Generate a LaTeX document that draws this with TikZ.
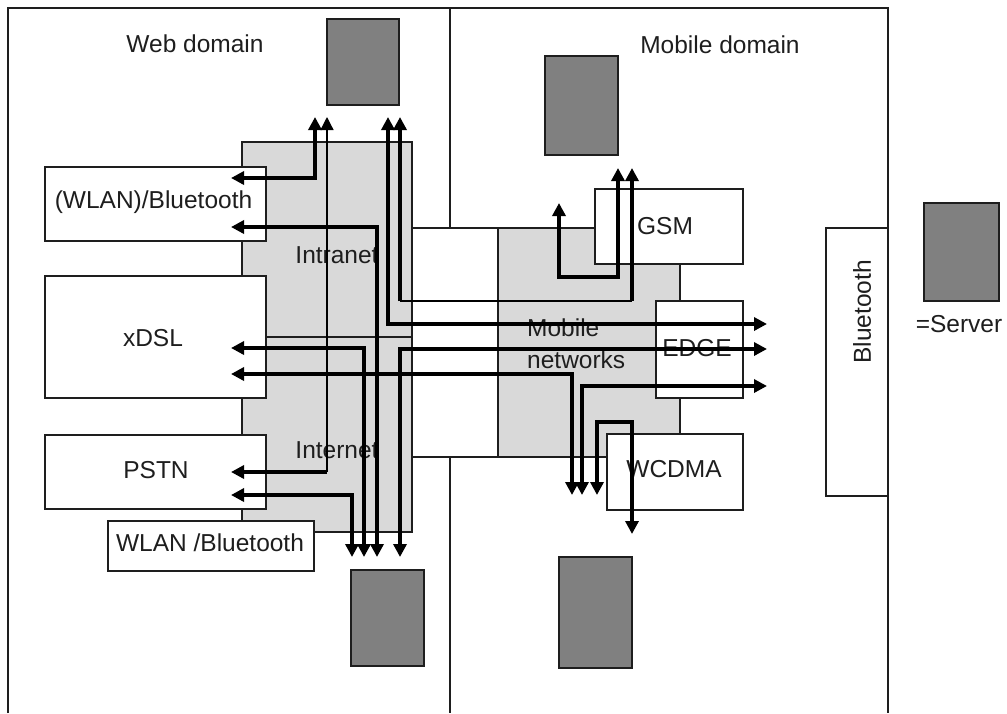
\documentclass[tikz,border=0pt]{standalone}
\usepackage{fontspec}
\setmainfont{Liberation Sans}
\usetikzlibrary{arrows.meta}
\definecolor{lgrey}{RGB}{217,217,217}
\definecolor{srvgrey}{RGB}{128,128,128}
\definecolor{ink}{RGB}{30,30,30}
\begin{document}
\begin{tikzpicture}[x=1pt,y=-1pt,
  >={Triangle[length=13pt,width=13pt]},
  frameline/.style={draw=ink, line width=1.3pt},
  box/.style={draw=ink, line width=1.3pt, fill=white, inner sep=0pt, outer sep=0pt},
  greybox/.style={box, fill=lgrey},
  server/.style={box, fill=srvgrey},
  lbl/.style={font=\fontsize{24.5}{32}\selectfont, text=ink, inner sep=0pt},
  conn/.style={draw=black, line width=3.3pt, line join=miter},
  thinconn/.style={draw=black, line width=1.3pt}]
\useasboundingbox (0,0) rectangle (1007,713);
% domain frames
\draw[frameline] (8,713) -- (8,8) -- (888,8) -- (888,713);
\draw[frameline] (450,8) -- (450,713);
% grey areas
\node[greybox, minimum width=170, minimum height=195] (intra) at (327,239.5) {};
\node[greybox, minimum width=170, minimum height=195] (inter) at (327,434.5) {};
\node[greybox, minimum width=182, minimum height=229] (mobnet) at (589,342.5) {};
\node[box, minimum width=86, minimum height=229] (link) at (455,342.5) {};
% access boxes
\node[box, minimum width=221, minimum height=74] (wlanbt) at (155.5,204) {};
\node[box, minimum width=221, minimum height=122] (xdsl) at (155.5,337) {};
\node[box, minimum width=221, minimum height=74] (pstn) at (155.5,472) {};
\node[box, minimum width=206, minimum height=50] (wlanbtb) at (211,546) {};
\node[box, minimum width=148, minimum height=75] (gsm) at (669,226.5) {};
\node[box, minimum width=87, minimum height=97] (edge) at (699.5,349.5) {};
\node[box, minimum width=136, minimum height=76] (wcdma) at (675,472) {};
\node[box, minimum width=62, minimum height=268] (bt) at (857,362) {};
% servers
\node[server, minimum width=72, minimum height=86] (srvwt) at (363,62) {};
\node[server, minimum width=73, minimum height=99] (srvmt) at (581.5,105.5) {};
\node[server, minimum width=73, minimum height=96] (srvwb) at (387.5,618) {};
\node[server, minimum width=73, minimum height=111] (srvmb) at (595.5,612.5) {};
\node[server, minimum width=75, minimum height=98] (srvleg) at (961.5,252) {};
% labels
\node[lbl] (lweb) at (195,44) {Web domain};
\node[lbl] (lmob) at (720,45) {Mobile domain};
\node[lbl] (lwlanbt) at (153.5,202) {(WLAN)/Bluetooth};
\node[lbl] (lxdsl) at (153,338) {xDSL};
\node[lbl] (lpstn) at (156,470) {PSTN};
\node[lbl] (lwlanbtb) at (210,543) {WLAN /Bluetooth};
\node[lbl] (lintra) at (337,255) {Intranet};
\node[lbl] (linter) at (337,450) {Internet};
\node[lbl, align=left, anchor=west] (lmobnet) at (527,344) {Mobile\\networks};
\node[lbl] (lgsm) at (665,226) {GSM};
\node[lbl] (ledge) at (697,348) {EDGE};
\node[lbl] (lwcdma) at (674,469) {WCDMA};
\node[lbl, rotate=90] (lbt) at (862,312) {Bluetooth};
\node[lbl] (lsrv) at (959,324) {=Server};
% connector end points
\coordinate (a1) at (315,117); \coordinate (a2) at (231,178);
\coordinate (b1) at (327,117); \coordinate (b2) at (327,472); \coordinate (b3) at (231,472);
\coordinate (c1) at (388,117); \coordinate (c2) at (767,324);
\coordinate (d1) at (400,117); \coordinate (d2) at (400,301); \coordinate (d3) at (632,301); \coordinate (d4) at (632,168);
\coordinate (e1) at (231,227); \coordinate (e2) at (377,557);
\coordinate (f1) at (231,348); \coordinate (f2) at (364,557);
\coordinate (g1) at (231,374); \coordinate (g2) at (572,495);
\coordinate (h1) at (231,495); \coordinate (h2) at (352,557);
\coordinate (i1) at (400,557); \coordinate (i2) at (767,349);
\coordinate (j1) at (582,495); \coordinate (j2) at (767,386);
\coordinate (k1) at (597,495); \coordinate (k2) at (632,422); \coordinate (k3) at (632,534);
\coordinate (l1) at (559,203); \coordinate (l2) at (618,277); \coordinate (l3) at (618,168);
% connectors
\draw[conn,<->] (a1) |- (a2);
\draw[thinconn,->] (b2) -- (b1);
\draw[conn,->] (b2) -- (b3);
\draw[conn,<->] (c1) |- (c2);
\draw[conn,->] (d2) -- (d1);
\draw[thinconn] (d2) -- (d3);
\draw[conn,->] (d3) -- (d4);
\draw[conn,<->] (e1) -| (e2);
\draw[conn,<->] (f1) -| (f2);
\draw[conn,<->] (g1) -| (g2);
\draw[conn,<->] (h1) -| (h2);
\draw[conn,<->] (i1) |- (i2);
\draw[conn,<->] (j1) |- (j2);
\draw[conn,<->] (k1) |- (k2) -- (k3);
\draw[conn,<->] (l1) |- (l2) -- (l3);
\end{tikzpicture}
\end{document}
